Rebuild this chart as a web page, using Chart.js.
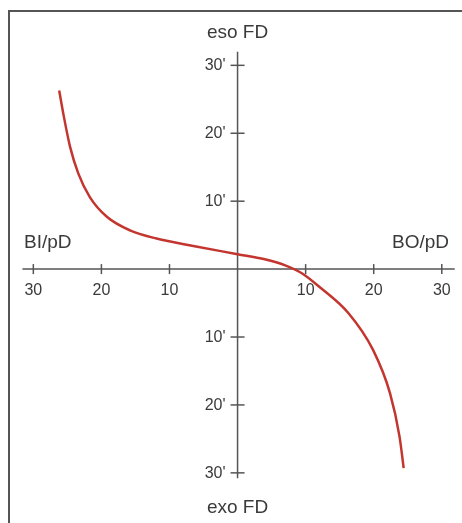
<!DOCTYPE html>
<html>
<head>
<meta charset="utf-8">
<script src="https://cdn.jsdelivr.net/npm/chart.js@4"></script>
<style>
  html, body { margin: 0; padding: 0; background: #fff; }
  #wrap { position: relative; width: 462px; height: 523px; overflow: hidden; }
  #frame { position: absolute; left: 8px; top: 10px; width: 470px; height: 530px;
           border-top: 2px solid #555; border-left: 2px solid #555; pointer-events: none; }
  canvas { position: absolute; left: 0; top: 0; }
</style>
</head>
<body>
<div id="wrap">
  <canvas id="chart" width="462" height="523"></canvas>
  <div id="frame"></div>
</div>
<script>
// Curve (prism dioptres horizontal vs vertical minutes)
const curveX = [-26.2, -25.6, -24.6, -23.4, -21.7, -19.2, -15.8, -11.9, -6.5, 0, 4, 7, 9.5, 12, 16.3, 19.9, 22.4, 23.8, 24.4];
const curveY = [26.3, 22.9, 18.0, 14.1, 10.6, 7.7, 5.7, 4.5, 3.4, 2.2, 1.45, 0.55, -0.65, -2.6, -6.5, -11.9, -18.3, -24.7, -29.3];

const xTickValues = [-30, -20, -10, 10, 20, 30];
const xTickLabels = ['30', '20', '10', '10', '20', '30'];
const yTickValues = [30, 20, 10, -10, -20, -30];
const yTickLabels = ["30'", "20'", "10'", "10'", "20'", "30'"];

const axisTitles = { top: 'eso FD', bottom: 'exo FD', left: 'BI/pD', right: 'BO/pD' };

const points = curveX.map((x, i) => ({ x, y: curveY[i] }));

const axisColor = '#555';
const textColor = '#3a3a3a';
const fontFamily = '"Liberation Sans", Arial, sans-serif';

// Cross-shaped axes drawn through the middle of the plot
const crossAxes = {
    id: 'crossAxes',
    beforeDatasetsDraw(chart) {
        const { ctx, scales: { x, y } } = chart;
        const x0 = x.getPixelForValue(0);
        const y0 = y.getPixelForValue(0);
        ctx.save();
        ctx.strokeStyle = axisColor;
        ctx.lineWidth = 1.5;

        // horizontal axis
        ctx.beginPath();
        ctx.moveTo(x.getPixelForValue(-31.6), y0);
        ctx.lineTo(x.getPixelForValue(31.9), y0);
        ctx.stroke();

        // vertical axis
        ctx.beginPath();
        ctx.moveTo(x0, y.getPixelForValue(32));
        ctx.lineTo(x0, y.getPixelForValue(-30.8));
        ctx.stroke();

        ctx.fillStyle = textColor;
        ctx.font = '16px ' + fontFamily;

        ctx.textAlign = 'center';
        ctx.textBaseline = 'middle';
        xTickValues.forEach((v, i) => {
            const px = x.getPixelForValue(v);
            ctx.beginPath();
            ctx.moveTo(px, y0 - 5);
            ctx.lineTo(px, y0 + 5);
            ctx.stroke();
            ctx.fillText(xTickLabels[i], px, y0 + 21);
        });

        ctx.textAlign = 'right';
        yTickValues.forEach((v, i) => {
            const py = y.getPixelForValue(v);
            ctx.beginPath();
            ctx.moveTo(x0 - 7, py);
            ctx.lineTo(x0 + 7, py);
            ctx.stroke();
            ctx.fillText(yTickLabels[i], x0 - 12, py + 0.5);
        });

        ctx.font = '19px ' + fontFamily;
        ctx.textBaseline = 'alphabetic';
        ctx.textAlign = 'center';
        ctx.fillText(axisTitles.top, x0, 38);
        ctx.fillText(axisTitles.bottom, x0, 513);
        ctx.textAlign = 'left';
        ctx.fillText(axisTitles.left, 24, 248);
        ctx.textAlign = 'right';
        ctx.fillText(axisTitles.right, 449, 248);
        ctx.restore();
    }
};

new Chart(document.getElementById('chart'), {
    type: 'scatter',
    data: {
        datasets: [{
            data: points,
            showLine: true,
            borderColor: '#c3362f',
            borderWidth: 2.5,
            pointRadius: 0,
            tension: 0.4,
            cubicInterpolationMode: 'monotone',
            fill: false
        }]
    },
    options: {
        responsive: false,
        animation: false,
        events: [],
        layout: { padding: { left: 9.5, right: 6.6, top: 11, bottom: 2.6 } },
        plugins: { legend: { display: false }, tooltip: { enabled: false } },
        scales: {
            x: { type: 'linear', min: -33.5, max: 32, display: false },
            y: { type: 'linear', min: -37, max: 38, display: false }
        }
    },
    plugins: [crossAxes]
});
</script>
</body>
</html>
